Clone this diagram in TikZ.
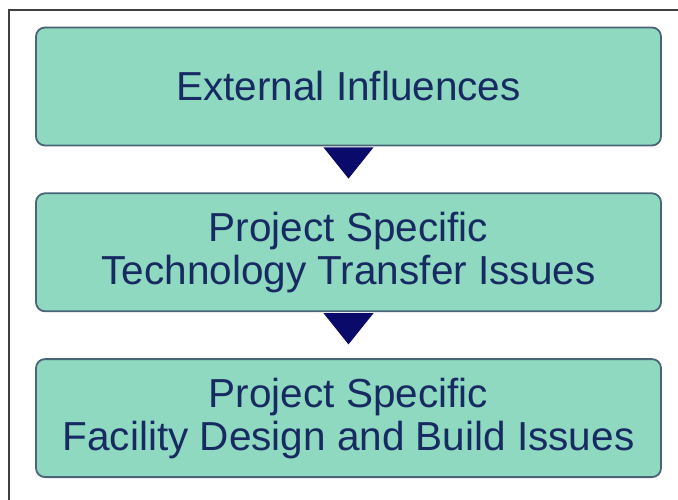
\documentclass[tikz,border=0pt]{standalone}
\usepackage{fontspec}
\setmainfont{Liberation Sans}
\usetikzlibrary{calc,positioning}

\definecolor{mint}{HTML}{8ED9C0}
\definecolor{edgeblue}{HTML}{4A6478}
\definecolor{textnavy}{HTML}{172A62}
\definecolor{arrownavy}{HTML}{0A0A6A}

\tikzset{
  stage/.style={draw=edgeblue,line width=1.8pt,fill=mint,rounded corners=9pt,
    minimum width=625pt,minimum height=118pt,align=center,text=textnavy,
    font=\fontsize{40.5pt}{43pt}\selectfont},
}

\begin{document}
\begin{tikzpicture}[x=1pt,y=1pt]
    \useasboundingbox (0,0) rectangle (678,-500);
    \draw[line width=1.3pt,black!75] (9,-500) -- (9,-10) -- (678,-10);
    \node[stage] (ext) at (348.5,-86.5) {External Influences};
    \node[stage,below=46pt of ext] (tech) {Project Specific\\Technology Transfer Issues};
    \node[stage,below=46pt of tech] (fac) {Project Specific\\Facility Design and Build Issues};
    % downward pointers
    \fill[arrownavy] ($(ext.south)+(-25,-1)$) -- ($(ext.south)+(25,-1)$)
      -- ($(ext.south)!0.7!(tech.north)$) -- cycle;
    \fill[arrownavy] ($(tech.south)+(-25,-1)$) -- ($(tech.south)+(25,-1)$)
      -- ($(tech.south)!0.7!(fac.north)$) -- cycle;
  \end{tikzpicture}
\end{document}
